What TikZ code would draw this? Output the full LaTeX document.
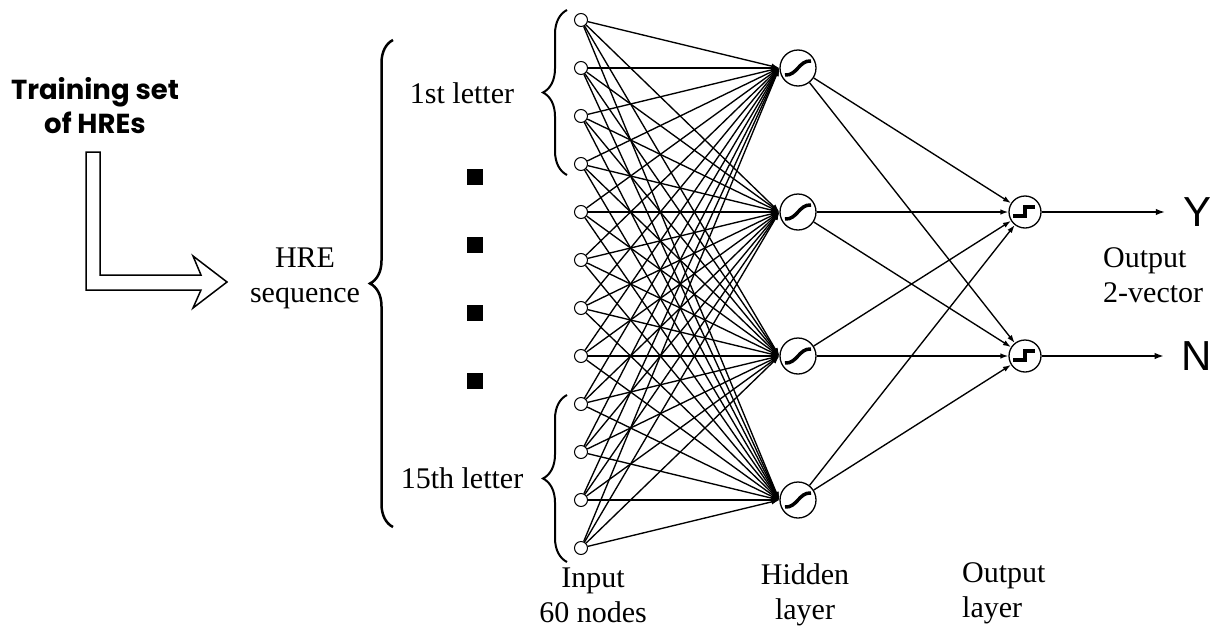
\documentclass[tikz,border=0pt]{standalone}
\usepackage{fontspec}
\setmainfont{Liberation Serif}
\newfontfamily\gothicfont{Poppins}
\newfontfamily\arialfont{Liberation Sans}
\usetikzlibrary{arrows.meta,decorations.pathreplacing,calc}
\begin{document}
\begin{tikzpicture}[x=1pt,y=-1pt,
  innode/.style={circle,draw,line width=1pt,minimum size=13pt,inner sep=0pt},
  hidnode/.style={circle,draw,line width=1.3pt,minimum size=36pt,inner sep=0pt},
  outnode/.style={circle,draw,line width=1.3pt,minimum size=32pt,inner sep=0pt},
  conn/.style={line width=1.35pt,-{Latex[length=8pt,width=5.5pt]}},
  outarrow/.style={line width=1.4pt,-{Latex[length=9pt,width=6.5pt]}},
  lbl/.style={font=\fontsize{30}{35}\selectfont,align=center,inner sep=0pt},
  yn/.style={font=\arialfont\fontsize{42}{42}\selectfont,inner sep=0pt},
  dotsq/.style={fill=black,minimum size=16pt,inner sep=0pt},
  bracestyle/.style={decorate,decoration={brace,amplitude=#1}},
]
\useasboundingbox (0,0) rectangle (1216,632);

% input nodes
\foreach \i in {1,...,12}{
  \node[innode] (in\i) at (581,{20+48*(\i-1)}) {};
}
% hidden nodes
\foreach \j/\yy in {1/68,2/212,3/356,4/500}{
  \node[hidnode] (h\j) at (798,\yy) {};
}
% output nodes
\node[outnode] (o1) at (1025,212) {};
\node[outnode] (o2) at (1025,356) {};

% input -> hidden
\foreach \i in {1,...,12}{
  \foreach \j in {1,...,4}{
    \draw[conn] (in\i) -- (h\j.west);
  }
}
% hidden -> output
\foreach \j in {1,...,4}{
  \foreach \k in {1,2}{
    \draw[conn] (h\j) -- (o\k);
  }
}

% sigmoid icons
\foreach \j in {1,...,4}{
  \draw[line width=3.5pt] ($(h\j)+(-13,7)$) .. controls ($(h\j)+(-1,8)$) and ($(h\j)+(1,-8)$) .. ($(h\j)+(13,-7)$);
}
% step icons
\foreach \k in {1,2}{
  \draw[line width=4pt,line join=miter] ($(o\k)+(-12,4)$) -- ($(o\k)+(0,4)$) -- ($(o\k)+(0,-5)$) -- ($(o\k)+(10,-5)$);
}

% outputs
\node[yn] (Y) at (1197,212) {Y};
\node[yn] (N) at (1197,356) {N};
\draw[outarrow] (o1) -- ([xshift=-18pt]Y.west);
\draw[outarrow] (o2) -- ([xshift=-18pt]N.west);

% black squares
\node[dotsq] (d1) at (475,177) {};
\node[dotsq] (d2) at (475,245) {};
\node[dotsq] (d3) at (475,313) {};
\node[dotsq] (d4) at (475,381) {};

% braces
\draw[line width=2.5pt,bracestyle=23pt] (393,527) -- (393,40);
\draw[line width=2pt,bracestyle=24pt] (567,175) -- (567,10);
\draw[line width=2pt,bracestyle=24pt] (567,562) -- (567,395);

% labels
\node[lbl] (first) at (462,93) {1st letter};
\node[lbl] (last) at (462,478) {15th letter};
\node[lbl] (seq) at (305,278) {HRE\\sequence};
\node[lbl] (inlbl) at (593,595) {Input\\60 nodes};
\node[lbl] (hidlbl) at (805,595) {Hidden\\layer};
\node[lbl,anchor=west,align=left] (outlbl) at (962,593) {Output\\layer};
\node[lbl,anchor=west,align=left] (vec) at (1103,275) {Output\\2-vector};

\node[font=\gothicfont\bfseries\fontsize{27.5}{34}\selectfont,align=center,inner sep=0pt] (train) at (95,106) {Training set\\of HREs};

% hollow arrow
\draw[line width=1.5pt,fill=white,line join=miter] (86,152) -- (100,152) -- (100,275) -- (201,275) -- (193,256) -- (227,282) -- (193,308) -- (201,290) -- (86,290) -- cycle;
\end{tikzpicture}
\end{document}
